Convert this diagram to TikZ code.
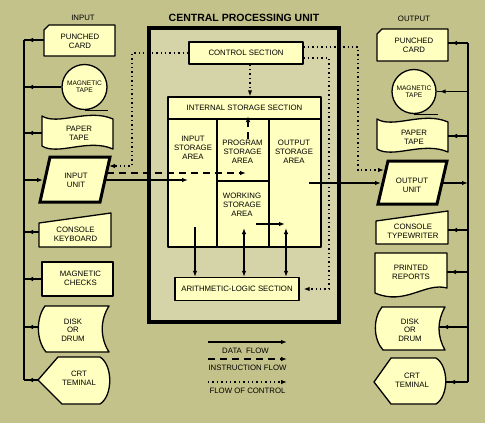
\documentclass[tikz,border=0pt]{standalone}
\usepackage{fontspec}
\setmainfont{Liberation Sans}
\usetikzlibrary{arrows.meta,decorations.markings,calc}
\definecolor{bgc}{RGB}{195,194,138}
\definecolor{cpuc}{RGB}{213,212,168}
\definecolor{boxc}{RGB}{255,255,192}
\begin{document}
\begin{tikzpicture}[x=1pt,y=-1pt,
  lbl/.style={font=\fontsize{7.8}{9}\selectfont, align=center, inner sep=0pt},
  lblthree/.style={font=\fontsize{7.8}{8.6}\selectfont, align=center, inner sep=0pt},
  smalltxt/.style={font=\fontsize{6.6}{7.3}\selectfont, align=center, inner sep=0pt},
  dev/.style={draw=black, fill=boxc, line width=1.3pt, line join=round},
  thickdev/.style={draw=black, fill=boxc, line width=3pt, line join=miter},
  bus/.style={line width=1.9pt},
  conn/.style={line width=1.3pt},
  tipa/.style={-{Latex[length=6pt,width=4.5pt]}},
  tipb/.style={{Latex[length=6pt,width=4.5pt]}-{Latex[length=6pt,width=4.5pt]}},
  tipnear/.style={postaction={decorate}, decoration={markings, mark=at position -3pt with {\arrow{Latex[length=6pt,width=4.5pt]}}}},
  instr/.style={line width=1.3pt, dash pattern=on 7pt off 5pt},
  ctrlf/.style={line width=1.4pt, dash pattern=on 1.4pt off 3pt},
]
\fill[bgc] (0,0) rectangle (485,423);
\useasboundingbox (0,0) rectangle (485,423);

% titles
\node[lbl] (inlbl) at (83,18) {INPUT};
\node[lbl] (outlbl) at (414,19) {OUTPUT};
\node[font=\bfseries\fontsize{10.5}{12}\selectfont, inner sep=0pt] (cpulbl) at (244,18) {CENTRAL PROCESSING UNIT};

% CPU
\node[draw=black, fill=cpuc, line width=4pt, minimum width=190pt, minimum height=293.5pt, inner sep=0pt] (cpu) at (244,174.75) {};

% buses
\coordinate (lbt) at (24,40);
\coordinate (lbb) at (24,380);
\coordinate (rbt) at (468,43);
\coordinate (rbb) at (468,382);
\draw[bus] (lbt) -- (lbb);
\draw[bus] (rbt) -- (rbb);

% ---------- left devices ----------
\draw[dev] (44,30) -- (49,25) -- (115,25) -- (115,56) -- (44,56) -- cycle;
\node[lbl] (pcl) at (80,41) {PUNCHED\\CARD};
\coordinate (pclw) at (44,40);

\node[dev, circle, minimum size=45pt, smalltxt] (mtl) at (84.5,87) {MAGNETIC\\TAPE};
\draw[line width=1.3pt] (mtl.south) -- ++(23,0);

\draw[dev] (42,116) .. controls (58,126) and (88,108) .. (113,119) -- (113,149) .. controls (88,138) and (58,156) .. (42,146) -- cycle;
\node[lbl] (ptl) at (79,133) {PAPER\\TAPE};
\coordinate (ptlw) at (42,133);

\draw[thickdev] (50,157) -- (110,157) -- (100,202) -- (40,202) -- cycle;
\node[lbl] (iu) at (76,180) {INPUT\\UNIT};
\coordinate (iuw) at (43,180);
\coordinate (iue) at (105,180);
\coordinate (iud) at (106.5,173);
\coordinate (iuc) at (109,166);

\draw[dev] (39,223) -- (111,213) -- (111,247) -- (39,247) -- cycle;
\node[lbl] (ckl) at (75.5,234.5) {CONSOLE\\KEYBOARD};
\coordinate (cklw) at (39,232);

\node[dev, minimum width=71pt, minimum height=34pt, inner sep=0pt] (mcl) at (77.5,279) {};
\node[lbl] (mclt) at (80.5,278.5) {MAGNETIC\\CHECKS};

\draw[dev] (45,306) -- (109,306) .. controls (100,320) and (100,338) .. (109,352) -- (46,352) .. controls (36,340) and (36,318) .. (45,306) -- cycle;
\node[lblthree] (dkl) at (73,330) {DISK\\OR\\DRUM};
\coordinate (dklw) at (38.5,327);

\draw[dev] (38,380) -- (58,357) -- (100,357) .. controls (113,365) and (113,396) .. (100,404) -- (62,404) -- cycle;
\node[lbl] (crl) at (79,378.5) {CRT\\TEMINAL};
\coordinate (crlw) at (38,380);

% left connectors
\draw[conn,tipnear] (pclw) -- (pclw -| lbt);
\draw[conn,tipnear] (mtl.west) -- (mtl.west -| lbt);
\draw[conn,tipnear] (ptlw) -- (ptlw -| lbt);
\draw[conn,tipa] (iuw -| lbt) -- (iuw);
\draw[conn,tipnear] (cklw) -- (cklw -| lbt);
\draw[conn,tipnear] (mcl.west) -- (mcl.west -| lbt);
\draw[conn,tipnear] (dklw) -- (dklw -| lbt);
\draw[conn,tipnear] (crlw) -- (crlw -| lbt);

% ---------- right devices ----------
\draw[dev] (377,34) -- (382,29) -- (448,29) -- (448,61) -- (377,61) -- cycle;
\node[lbl] (pcr) at (414,45.5) {PUNCHED\\CARD};
\coordinate (pcre) at (448,43);

\node[dev, circle, minimum size=44pt, smalltxt] (mtr) at (414,91.5) {MAGNETIC\\TAPE};
\draw[line width=1.3pt] (mtr.south) -- ++(24,0);

\draw[dev] (377,119) .. controls (393,129) and (423,111) .. (448,122) -- (448,152) .. controls (423,141) and (393,159) .. (377,149) -- cycle;
\node[lbl] (ptr) at (414,137) {PAPER\\TAPE};
\coordinate (ptre) at (448,136);

\draw[thickdev] (388,161) -- (447,161) -- (437,204) -- (378,204) -- cycle;
\node[lbl] (ou) at (412,185) {OUTPUT\\UNIT};
\coordinate (oue) at (442,183);
\coordinate (ouw) at (381,183);
\coordinate (ouc) at (384,170);

\draw[dev] (376,221) -- (448,211) -- (448,244) -- (376,244) -- cycle;
\node[lbl] (ctr) at (413,231) {CONSOLE\\TYPEWRITER};
\coordinate (ctre) at (448,230);

\draw[dev] (375,253) -- (447,253) -- (447,288) .. controls (425,282) and (405,306) .. (375,293) -- cycle;
\node[lbl] (prr) at (411,272) {PRINTED\\REPORTS};
\coordinate (prre) at (447,272);

\draw[dev] (382,307) -- (445,307) .. controls (437,321) and (437,336) .. (445,350) -- (383,350) .. controls (373,339) and (373,318) .. (382,307) -- cycle;
\node[lblthree] (dkr) at (410,330) {DISK\\OR\\DRUM};
\coordinate (dkre) at (439,327);

\draw[dev] (374,382) -- (391,358) -- (436,358) .. controls (449,366) and (449,396) .. (436,404) -- (391,404) -- cycle;
\node[lbl] (crr) at (412,380) {CRT\\TEMINAL};
\coordinate (crre) at (446,382);

% right connectors
\draw[conn,tipnear] (pcre -| rbt) -- (pcre);
\draw[conn,tipnear] (mtr.east -| rbt) -- (mtr.east);
\draw[conn,tipnear] (ptre -| rbt) -- (ptre);
\draw[conn,tipa] (oue) -- (oue -| rbt);
\draw[conn,tipnear] (ctre -| rbt) -- (ctre);
\draw[conn,tipnear] (prre -| rbt) -- (prre);
\draw[conn,tipnear] (dkre -| rbt) -- (dkre);
\draw[conn,tipnear] (crre -| rbt) -- (crre);

% ---------- CPU interior ----------
\node[dev, minimum width=114pt, minimum height=22pt, lbl] (ctl) at (246,53) {CONTROL SECTION};
\node[dev, minimum width=153pt, minimum height=22pt, lbl] (ist) at (244.5,108) {INTERNAL STORAGE SECTION};
\draw[dev] (168,119) rectangle (217,247);
\draw[dev] (217,119) rectangle (269,181);
\draw[dev] (217,181) rectangle (269,247);
\draw[dev] (269,119) rectangle (321,247);
\node[lbl] (isat) at (193,147.5) {INPUT\\STORAGE\\AREA};
\node[lbl] (psat) at (242.5,152) {PROGRAM\\STORAGE\\AREA};
\node[lbl] (wsat) at (242,205) {WORKING\\STORAGE\\AREA};
\node[lbl] (osat) at (294,152) {OUTPUT\\STORAGE\\AREA};
\node[dev, minimum width=124pt, minimum height=23pt, lbl] (alu) at (237,289) {ARITHMETIC-LOGIC SECTION};

\coordinate (isin) at (188,180);
\coordinate (psin) at (246,173);
\coordinate (cl1) at (132,166);
\coordinate (co1) at (358,170);
\coordinate (ca1) at (329,289);
\coordinate (ps1) at (248,139);
\coordinate (ps2) at (248,116);
\coordinate (w1) at (256,224);
\coordinate (o1) at (285,224);
\coordinate (i1) at (195,227);
\coordinate (p1) at (244,228);
\coordinate (o2) at (286,228);
\coordinate (os1) at (309,183);

% data flow
\draw[conn,tipa] (iue) -- (isin);
\draw[conn,tipa] (os1) -- (ouw);
\draw[conn,tipa] (w1) -- (o1);
\draw[conn,tipa] (i1) -- (i1 |- alu.north);
\draw[conn,tipb] (p1) -- (p1 |- alu.north);
\draw[conn,tipb] (o2) -- (o2 |- alu.north);
% instruction flow
\draw[instr,tipa] (iud) -- (psin);
\draw[instr,tipa] (ps1) -- (ps2);
% flow of control
\draw[ctrlf,tipa] (ctl.west) -| (cl1) -- (iuc);
\draw[ctrlf,tipa] ([yshift=6pt]ctl.east) -| (co1) -- (ouc);
\draw[ctrlf,tipa] ([yshift=-5pt]ctl.east) -| (ca1) -- ([xshift=4pt]alu.east);
\draw[ctrlf,tipa] ([xshift=4pt]ctl.south) -- ([xshift=4pt]ctl.south |- ist.north);

% ---------- legend ----------
\coordinate (lg1a) at (208,342);
\coordinate (lg1b) at (287,342);
\coordinate (lg2a) at (208,359);
\coordinate (lg2b) at (287,359);
\coordinate (lg3a) at (208,382);
\coordinate (lg3b) at (287,382);
\draw[conn,tipa] (lg1a) -- (lg1b);
\draw[instr,tipa] (lg2a) -- (lg2b);
\draw[ctrlf,tipa] (lg3a) -- (lg3b);
\node[lbl] (lgt1) at (245.5,351) {DATA\ \ FLOW};
\node[lbl] (lgt2) at (247.5,368) {INSTRUCTION FLOW};
\node[lbl] (lgt3) at (247.5,391) {FLOW OF CONTROL};
\end{tikzpicture}
\end{document}
